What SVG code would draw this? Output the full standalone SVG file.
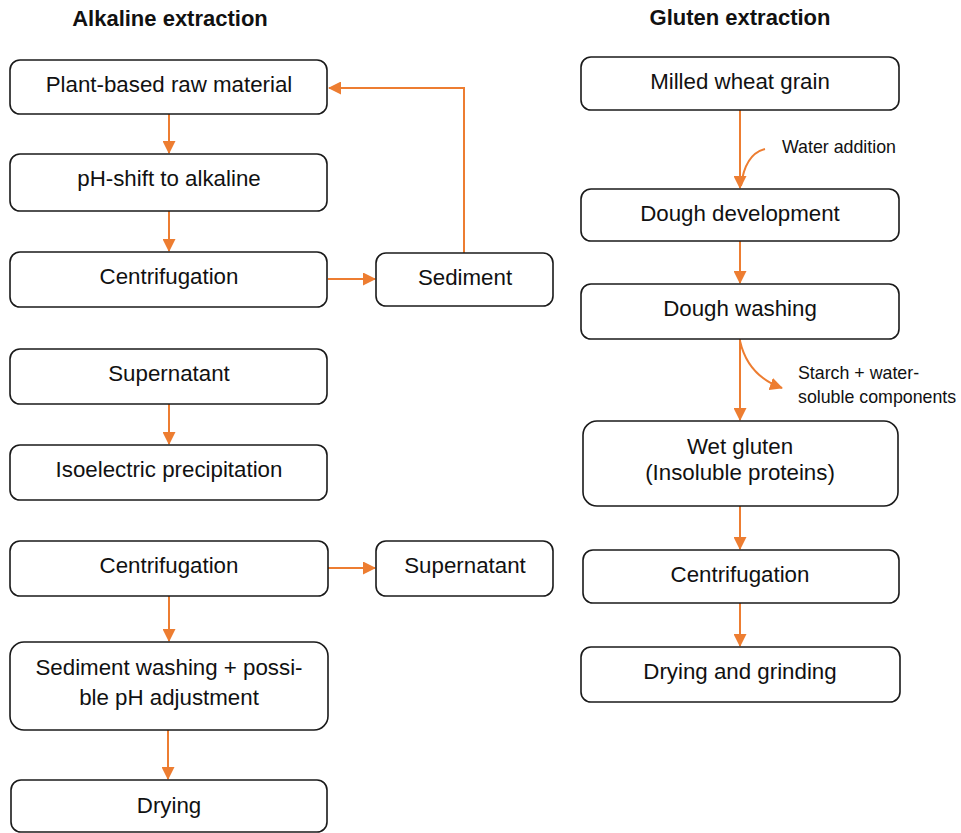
<svg xmlns="http://www.w3.org/2000/svg" width="961" height="833" viewBox="0 0 961 833">
<defs>
<style>
.box{fill:#fff;stroke:#1a1a1a;stroke-width:1.6}
.t{font-family:"Liberation Sans",Arial,sans-serif;font-size:22.3px;fill:#111;text-anchor:middle}
.h{font-family:"Liberation Sans",Arial,sans-serif;font-size:22px;font-weight:bold;fill:#111;text-anchor:middle}
.s{font-family:"Liberation Sans",Arial,sans-serif;font-size:17.8px;fill:#111}
.c{fill:none;stroke:#ED7D31;stroke-width:2}
</style>
<marker id="ah" viewBox="0 0 13 13" refX="12" refY="6.5" markerWidth="13" markerHeight="13" markerUnits="userSpaceOnUse" orient="auto">
<path d="M0,0 L13,6.5 L0,13 Z" fill="#ED7D31"/>
</marker>
</defs>
<rect width="961" height="833" fill="#fff"/>
<text class="h" x="170" y="26">Alkaline extraction</text>
<text class="h" x="740" y="25">Gluten extraction</text>

<g id="connectors">
<line class="c" x1="169" y1="114" x2="169" y2="153" marker-end="url(#ah)"/>
<line class="c" x1="169" y1="211" x2="169" y2="251" marker-end="url(#ah)"/>
<line class="c" x1="328" y1="279" x2="375" y2="279" marker-end="url(#ah)"/>
<polyline class="c" points="464,253 464,88 329,88" marker-end="url(#ah)"/>
<line class="c" x1="169" y1="404" x2="169" y2="444" marker-end="url(#ah)"/>
<line class="c" x1="169" y1="596" x2="169" y2="641" marker-end="url(#ah)"/>
<line class="c" x1="328" y1="568" x2="375" y2="568" marker-end="url(#ah)"/>
<line class="c" x1="168" y1="730" x2="168" y2="779" marker-end="url(#ah)"/>
<line class="c" x1="740" y1="110" x2="740" y2="188" marker-end="url(#ah)"/>
<path class="c" d="M765,149 Q745,154 741,186"/>
<line class="c" x1="740" y1="241" x2="740" y2="283" marker-end="url(#ah)"/>
<line class="c" x1="740" y1="339" x2="740" y2="420" marker-end="url(#ah)"/>
<path class="c" d="M740,341 Q748,376 782,388" marker-end="url(#ah)"/>
<line class="c" x1="740" y1="506" x2="740" y2="549" marker-end="url(#ah)"/>
<line class="c" x1="740" y1="603" x2="740" y2="646" marker-end="url(#ah)"/>
</g>
<text class="s" x="782" y="153">Water addition</text>
<text class="s" x="798" y="379">Starch + water-</text>
<text class="s" x="798" y="403">soluble components</text>

<g id="n1"><rect class="box" x="10" y="60" width="317" height="54" rx="10"/><text class="t" x="169" y="92">Plant-based raw material</text></g>
<g id="n2"><rect class="box" x="10" y="154" width="317" height="57" rx="10"/><text class="t" x="169" y="186">pH-shift to alkaline</text></g>
<g id="n3"><rect class="box" x="10" y="252" width="317" height="55" rx="10"/><text class="t" x="169" y="284">Centrifugation</text></g>
<g id="n4"><rect class="box" x="376" y="253" width="177" height="53" rx="10"/><text class="t" x="465" y="285">Sediment</text></g>
<g id="n5"><rect class="box" x="10" y="349" width="317" height="55" rx="10"/><text class="t" x="169" y="381">Supernatant</text></g>
<g id="n6"><rect class="box" x="10" y="445" width="317" height="55" rx="10"/><text class="t" x="169" y="477">Isoelectric precipitation</text></g>
<g id="n7"><rect class="box" x="10" y="541" width="318" height="55" rx="10"/><text class="t" x="169" y="573">Centrifugation</text></g>
<g id="n8"><rect class="box" x="376" y="541" width="177" height="55" rx="10"/><text class="t" x="465" y="573">Supernatant</text></g>
<g id="n9"><rect class="box" x="10" y="642" width="318" height="88" rx="14"/><text class="t" x="169" y="675">Sediment washing + possi-</text><text class="t" x="169" y="705">ble pH adjustment</text></g>
<g id="n10"><rect class="box" x="11" y="780" width="316" height="52" rx="10"/><text class="t" x="169" y="813">Drying</text></g>

<g id="r1"><rect class="box" x="581" y="57" width="318" height="53" rx="10"/><text class="t" x="740" y="89">Milled wheat grain</text></g>
<g id="r2"><rect class="box" x="581" y="189" width="318" height="52" rx="10"/><text class="t" x="740" y="221">Dough development</text></g>
<g id="r3"><rect class="box" x="581" y="284" width="318" height="55" rx="10"/><text class="t" x="740" y="316">Dough washing</text></g>
<g id="r4"><rect class="box" x="583" y="421" width="315" height="85" rx="14"/><text class="t" x="740" y="454">Wet gluten</text><text class="t" x="740" y="480">(Insoluble proteins)</text></g>
<g id="r5"><rect class="box" x="583" y="550" width="316" height="53" rx="10"/><text class="t" x="740" y="582">Centrifugation</text></g>
<g id="r6"><rect class="box" x="581" y="647" width="319" height="55" rx="10"/><text class="t" x="740" y="679">Drying and grinding</text></g>
</svg>
